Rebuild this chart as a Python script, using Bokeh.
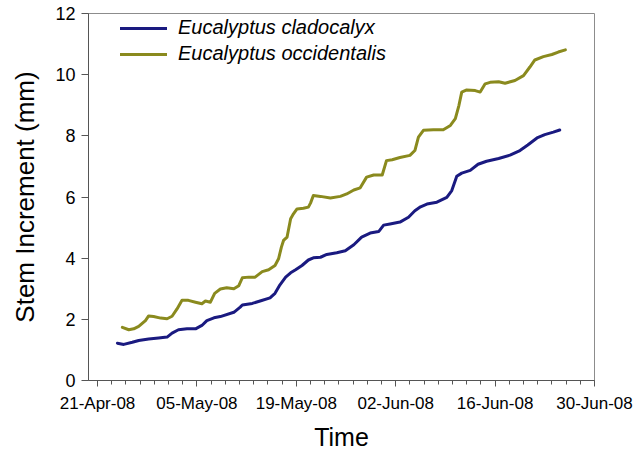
import numpy as np
import pandas as pd
from bokeh.plotting import figure
from bokeh.models import (Range1d, FixedTicker, DatetimeTickFormatter, Legend,
                          LegendItem, ColumnDataSource)
from bokeh.embed import file_html
from bokeh.resources import INLINE

# ---- data ----
start_date = "2008-04-21"   # day 0

clado_days = [2.8, 3.7, 4.9, 5.8, 7.2, 8.6, 9.8, 10.5, 11.4, 12.6, 13.8, 14.7, 15.4,
              16.4, 17.3, 19.2, 20.1, 20.4, 21.8, 22.9, 24.3, 25.0, 25.7, 26.5,
              27.2, 27.9, 28.8, 29.7, 30.4, 31.4, 32.3, 33.7, 34.9, 36.1, 37.2,
              38.4, 39.6, 40.3, 41.2, 42.6, 43.8, 44.7, 45.5, 46.4, 47.8, 49.2,
              49.9, 50.6, 51.3, 52.5, 53.6, 54.8, 56.5, 58.1, 59.5, 60.6, 61.9,
              63.0, 64.2, 65.1]
clado_vals = [1.22, 1.18, 1.25, 1.31, 1.36, 1.39, 1.42, 1.55, 1.66, 1.69, 1.69, 1.80,
              1.96, 2.05, 2.09, 2.23, 2.40, 2.47, 2.52, 2.60, 2.70, 2.85, 3.13, 3.38,
              3.52, 3.62, 3.76, 3.94, 4.01, 4.03, 4.12, 4.18, 4.24, 4.44, 4.69,
              4.82, 4.87, 5.08, 5.12, 5.18, 5.34, 5.55, 5.68, 5.77, 5.83, 5.99,
              6.21, 6.68, 6.78, 6.87, 7.07, 7.17, 7.26, 7.37, 7.52, 7.70, 7.93,
              8.04, 8.12, 8.19]

occid_days = [3.5, 4.4, 5.1, 5.8, 6.75, 7.2, 7.9, 8.9, 9.8, 10.5, 11.2, 11.9, 12.8,
              13.8, 14.7, 15.2, 15.9, 16.5, 17.3, 18.2, 19.2, 19.9, 20.4, 21.3,
              22.2, 23.2, 24.1, 25.0, 25.5, 25.9, 26.2, 26.7, 27.2, 27.6, 28.1,
              29.0, 29.7, 30.0, 30.4, 31.4, 32.8, 34.2, 35.1, 36.1, 37.0, 37.9,
              38.9, 40.1, 40.7, 41.5, 42.6, 44.0, 44.7, 45.2, 45.9, 47.3, 48.7,
              49.7, 50.4, 50.9, 51.3, 52.0, 53.2, 53.9, 54.6, 55.3, 56.5, 57.4,
              58.8, 60.0, 60.9, 61.6, 62.8, 64.0, 64.9, 65.9]
occid_vals = [1.74, 1.66, 1.69, 1.77, 1.96, 2.11, 2.09, 2.04, 2.02, 2.10, 2.34, 2.62,
              2.62, 2.56, 2.51, 2.60, 2.56, 2.85, 2.99, 3.03, 3.00, 3.10, 3.36, 3.38,
              3.38, 3.56, 3.62, 3.76, 3.98, 4.36, 4.58, 4.69, 5.29, 5.45, 5.61,
              5.63, 5.67, 5.80, 6.05, 6.02, 5.97, 6.02, 6.10, 6.23, 6.30, 6.65,
              6.72, 6.72, 7.19, 7.22, 7.29, 7.36, 7.52, 7.96, 8.18, 8.20, 8.20,
              8.34, 8.56, 8.99, 9.43, 9.50, 9.48, 9.43, 9.70, 9.75, 9.77, 9.72,
              9.81, 9.97, 10.25, 10.48, 10.59, 10.66, 10.74, 10.81]

series_names = ["Eucalyptus cladocalyx", "Eucalyptus occidentalis"]
series_colors = ["#1a1a80", "#8a8a1e"]

major_dates = ["2008-04-21", "2008-05-05", "2008-05-19", "2008-06-02",
               "2008-06-16", "2008-06-30"]
y_ticks = [0, 2, 4, 6, 8, 10, 12]
x_start = "2008-04-19 17:30"
x_end = "2008-06-30"

# ---- build ----
t0 = pd.Timestamp(start_date)
def to_dt(days):
    return t0 + pd.to_timedelta(np.array(days), unit="D")

def ms(ts):
    return pd.Timestamp(ts).value / 1e6

FONT = "Liberation Sans"

p = figure(width=638, height=453, x_axis_type="datetime",
           output_backend="svg", toolbar_location=None,
           x_range=Range1d(ms(x_start), ms(x_end)), y_range=Range1d(0, 12),
           min_border_left=88, min_border_right=44, min_border_top=13,
           min_border_bottom=73)
p.background_fill_color = "white"
p.border_fill_color = "white"
p.outline_line_color = "#8c8c8c"
p.outline_line_width = 1
p.grid.visible = False

renderers = []
for days, vals, color in [(clado_days, clado_vals, series_colors[0]),
                          (occid_days, occid_vals, series_colors[1])]:
    src = ColumnDataSource(dict(x=to_dt(days), y=vals))
    r = p.line("x", "y", source=src, line_color=color, line_width=3,
               line_join="round", line_cap="round")
    renderers.append(r)

major_ms = [ms(d) for d in major_dates]
minor_ms = [ms(d) for d in pd.date_range(major_dates[0], major_dates[-1], freq="2D")]
p.xaxis.ticker = FixedTicker(ticks=major_ms, minor_ticks=minor_ms)
fmt = "%d-%b-%y"
p.xaxis.formatter = DatetimeTickFormatter(days=fmt, months=fmt, years=fmt,
                                          hours=fmt, minutes=fmt, context=None)
p.yaxis.ticker = FixedTicker(ticks=y_ticks, minor_ticks=[])

for ax in (p.xaxis, p.yaxis):
    ax.axis_line_color = "#555555"
    ax.major_tick_line_color = "#555555"
    ax.minor_tick_line_color = "#555555"
    ax.major_tick_in = 0
    ax.minor_tick_in = 0
    ax.major_label_text_font = FONT
    ax.major_label_text_color = "black"
    ax.axis_label_text_font = FONT
    ax.axis_label_text_font_style = "normal"
    ax.axis_label_text_color = "black"

p.xaxis.major_tick_out = 6
p.xaxis.minor_tick_out = 4
p.xaxis.major_label_text_font_size = "17px"
p.xaxis.major_label_standoff = 7
p.xaxis.axis_label = "Time"
p.xaxis.axis_label_text_font_size = "25px"
p.xaxis.axis_label_standoff = 7

p.yaxis.major_tick_out = 7
p.yaxis.minor_tick_out = 0
p.yaxis.major_label_text_font_size = "18px"
p.yaxis.major_label_standoff = 6
p.yaxis.axis_label = "Stem Increment (mm)"
p.yaxis.axis_label_text_font_size = "26px"
p.yaxis.axis_label_standoff = 12

legend = Legend(items=[LegendItem(label=n, renderers=[r])
                       for n, r in zip(series_names, renderers)],
                location=(30, 313), padding=2, spacing=3, label_height=16,
                glyph_height=16, glyph_width=47, label_standoff=11,
                label_text_font=FONT, label_text_font_size="20px",
                label_text_font_style="italic", label_text_color="black",
                border_line_alpha=0, background_fill_alpha=0)
p.add_layout(legend, "center")

open("out.html", "w").write(file_html(p, INLINE))
